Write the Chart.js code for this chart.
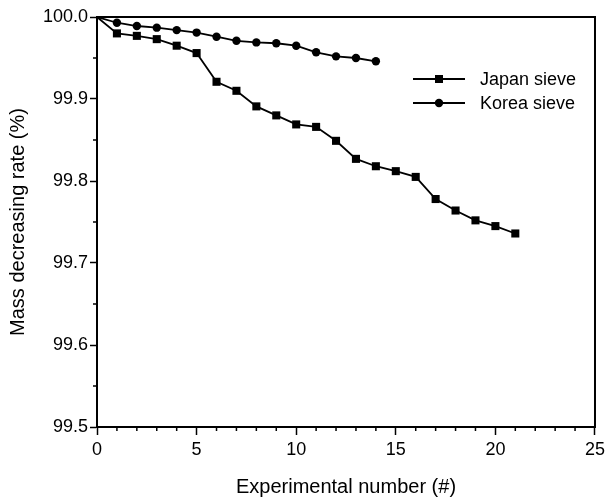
<!DOCTYPE html>
<html>
<head>
<meta charset="utf-8">
<script src="https://cdn.jsdelivr.net/npm/chart.js@4/dist/chart.umd.min.js"></script>
<style>
  html, body { margin: 0; padding: 0; background: #fff; }
  #wrap { width: 609px; height: 499px; }
</style>
</head>
<body>
<div id="wrap"><canvas id="sieveChart"></canvas></div>
<script>
var japanRuns = [0, 1, 2, 3, 4, 5, 6, 7, 8, 9, 10, 11, 12, 13, 14, 15, 16, 17, 18, 19, 20, 21];
var japanValues = [100.0, 99.980, 99.977, 99.973, 99.965, 99.956, 99.921, 99.910, 99.891, 99.880, 99.869,
  99.866, 99.849, 99.827, 99.818, 99.812, 99.805, 99.778, 99.764, 99.752, 99.745, 99.736];
var koreaRuns = [0, 1, 2, 3, 4, 5, 6, 7, 8, 9, 10, 11, 12, 13, 14];
var koreaValues = [100.0, 99.993, 99.989, 99.987, 99.984, 99.981, 99.976, 99.971, 99.969, 99.968, 99.965,
  99.957, 99.952, 99.950, 99.946];
var xTickLabels = ["0", "5", "10", "15", "20", "25"];
var yTickLabels = ["99.5", "99.6", "99.7", "99.8", "99.9", "100.0"];

var font = "'Liberation Sans', Arial, Helvetica, sans-serif";

function toPoints(xs, ys) {
  return xs.map((x, i) => ({ x: x, y: ys[i] }));
}

// first point of each series sits in the corner without a marker
function radii(n, r) {
  return Array.from({ length: n }, (_, i) => (i === 0 ? 0 : r));
}

// frame, minor ticks and legend
const decorations = {
  id: "decorations",
  afterDraw(chart) {
    const ctx = chart.ctx;
    const a = chart.chartArea;
    const xs = chart.scales.x;
    const ys = chart.scales.y;
    ctx.save();
    ctx.strokeStyle = "#000";
    ctx.lineWidth = 2;
    ctx.strokeRect(a.left, a.top, a.right - a.left, a.bottom - a.top);

    ctx.lineWidth = 1.5;
    ctx.beginPath();
    for (let v = 0; v <= 25; v++) {
      if (v % 5 === 0) continue;
      const px = xs.getPixelForValue(v);
      ctx.moveTo(px, a.bottom);
      ctx.lineTo(px, a.bottom + 4);
    }
    for (let k = 0; k < 5; k++) {
      const py = ys.getPixelForValue(99.55 + k * 0.1);
      ctx.moveTo(a.left, py);
      ctx.lineTo(a.left - 4, py);
    }
    ctx.stroke();

    // legend
    const items = [
      { label: "Japan sieve", style: "rect", y: 79 },
      { label: "Korea sieve", style: "circle", y: 103 },
    ];
    items.forEach((it) => {
      ctx.strokeStyle = "#000";
      ctx.fillStyle = "#000";
      ctx.lineWidth = 1.8;
      ctx.beginPath();
      ctx.moveTo(413, it.y);
      ctx.lineTo(465, it.y);
      ctx.stroke();
      if (it.style === "rect") {
        ctx.fillRect(439 - 4, it.y - 4, 8, 8);
      } else {
        ctx.beginPath();
        ctx.arc(439, it.y, 4.2, 0, Math.PI * 2);
        ctx.fill();
      }
      ctx.font = "18px " + font;
      ctx.textBaseline = "middle";
      ctx.textAlign = "left";
      ctx.fillText(it.label, 480, it.y + 1);
    });
    ctx.restore();
  },
};

new Chart("sieveChart", {
  type: "line",
  data: {
    datasets: [
      {
        label: "Japan sieve",
        data: toPoints(japanRuns, japanValues),
        borderColor: "#000",
        backgroundColor: "#000",
        borderWidth: 1.8,
        pointStyle: "rect",
        pointRadius: radii(japanRuns.length, 5.7),
        pointBorderWidth: 0,
        tension: 0,
      },
      {
        label: "Korea sieve",
        data: toPoints(koreaRuns, koreaValues),
        borderColor: "#000",
        backgroundColor: "#000",
        borderWidth: 1.8,
        pointStyle: "circle",
        pointRadius: radii(koreaRuns.length, 4.2),
        pointBorderWidth: 0,
        tension: 0,
      },
    ],
  },
  options: {
    responsive: true,
    maintainAspectRatio: false,
    animation: false,
    layout: { padding: { top: 17, right: 12, left: 0, bottom: 0 } },
    plugins: {
      legend: { display: false },
      tooltip: { enabled: false },
    },
    scales: {
      x: {
        type: "linear",
        min: 0,
        max: 25,
        afterFit: (scale) => { scale.height = 72; },
        afterBuildTicks: (scale) => {
          scale.ticks = xTickLabels.map((t) => ({ value: Number(t) }));
        },
        ticks: {
          color: "#000",
          font: { size: 18, family: font },
          padding: 4,
          maxRotation: 0,
          callback: (v) => xTickLabels.find((t) => Number(t) === v),
        },
        grid: { drawOnChartArea: false, color: "#000", tickLength: 8, tickWidth: 1.5 },
        border: { display: true, color: "#000", width: 2 },
        title: {
          display: true,
          text: "Experimental number (#)",
          color: "#000",
          font: { size: 20, family: font },
          padding: { top: 0, bottom: 0 },
        },
      },
      y: {
        min: 99.5,
        max: 100.0,
        afterFit: (scale) => { scale.width = 97; },
        afterBuildTicks: (scale) => {
          scale.ticks = yTickLabels.map((t) => ({ value: Number(t) }));
        },
        ticks: {
          color: "#000",
          font: { size: 18, family: font },
          padding: 2,
          callback: (v) => yTickLabels.find((t) => Math.abs(Number(t) - v) < 1e-6),
        },
        grid: { drawOnChartArea: false, color: "#000", tickLength: 7, tickWidth: 1.5 },
        border: { display: true, color: "#000", width: 2 },
        title: {
          display: true,
          text: "Mass decreasing rate (%)",
          color: "#000",
          font: { size: 20, family: font },
          padding: { top: 6, bottom: 0 },
        },
      },
    },
  },
  plugins: [decorations],
});
</script>
</body>
</html>
